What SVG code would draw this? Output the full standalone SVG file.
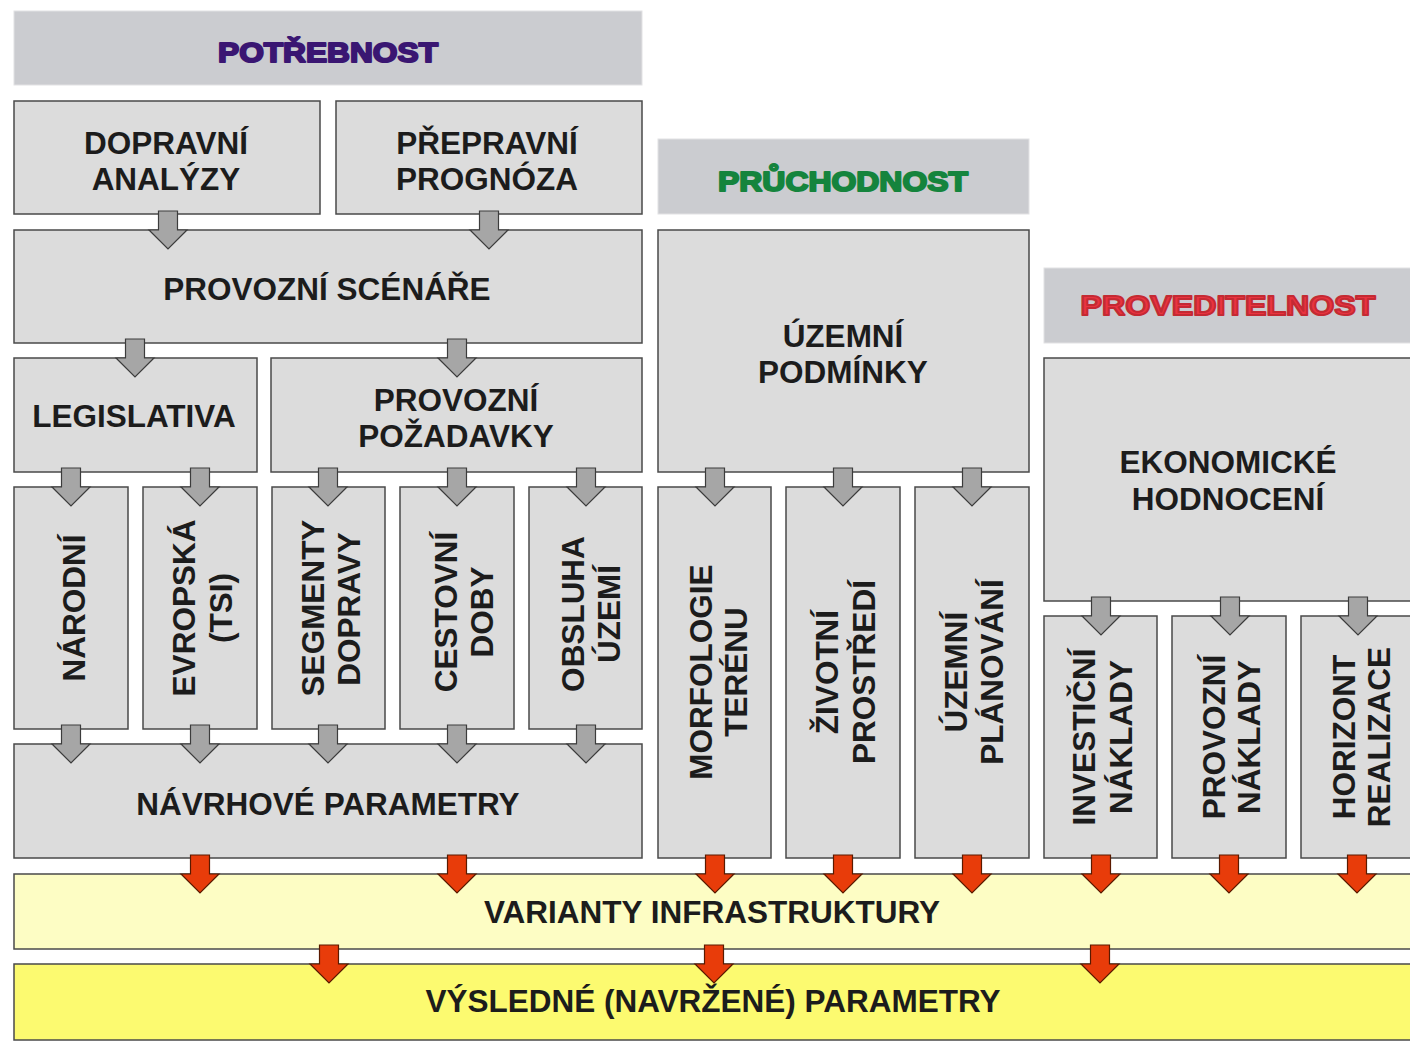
<svg xmlns="http://www.w3.org/2000/svg" width="1410" height="1041" viewBox="0 0 1410 1041">
  <defs>
    <style>
      .box { fill: #dcdcdc; stroke: #4a4a4a; stroke-width: 1.5; }
      .head { fill: #cbccd0; stroke: #e2e2e4; stroke-width: 1; }
      .var { fill: #fdfdc4; stroke: #4a4a4a; stroke-width: 1.5; }
      .res { fill: #fcfa70; stroke: #4a4a4a; stroke-width: 1.5; }
      .t { font-family: "Liberation Sans", Arial, sans-serif; font-weight: bold; font-size: 31.5px; fill: #1c1c1c; text-anchor: middle; }
      .h { font-family: "Liberation Sans", Arial, sans-serif; font-weight: 900; font-size: 28px; text-anchor: middle; stroke-width: 2; stroke-linejoin: round; }
      .gray { fill: #a6a6a6; stroke: #3c3c3c; stroke-width: 1.2; stroke-linejoin: miter; }
      .red { fill: #e83c0a; stroke: #5a1a00; stroke-width: 1.2; stroke-linejoin: miter; }
    </style>
    <!-- block arrow pointing down, origin at the tip -->
    <path id="arr" d="M -9.5 -38 L 9.5 -38 L 9.5 -19 L 19 -19 L 0 0 L -19 -19 L -9.5 -19 Z"/>
  </defs>

  <rect width="1410" height="1041" fill="#ffffff"/>

  <!-- column headers -->
  <g id="potrebnost">
    <rect class="head" x="14" y="11" width="628" height="74"/>
    <text class="h" x="328" y="62" fill="#3a1672" stroke="#3a1672" textLength="220" lengthAdjust="spacingAndGlyphs">POTŘEBNOST</text>
  </g>
  <g id="pruchodnost">
    <rect class="head" x="658" y="139" width="371" height="75"/>
    <text class="h" x="843" y="191" fill="#15843d" stroke="#15843d" textLength="250" lengthAdjust="spacingAndGlyphs">PRŮCHODNOST</text>
  </g>
  <g id="proveditelnost">
    <rect class="head" x="1044" y="268" width="380" height="75"/>
    <text class="h" x="1228" y="315" fill="#ea3340" stroke="#c42a33" textLength="295" lengthAdjust="spacingAndGlyphs">PROVEDITELNOST</text>
  </g>

  <!-- demand column -->
  <g id="dopravni-analyzy">
    <rect class="box" x="14" y="101" width="306" height="113"/>
    <text class="t" x="166" y="154">DOPRAVNÍ</text>
    <text class="t" x="166" y="190">ANALÝZY</text>
  </g>
  <g id="prepravni-prognoza">
    <rect class="box" x="336" y="101" width="306" height="113"/>
    <text class="t" x="487" y="154">PŘEPRAVNÍ</text>
    <text class="t" x="487" y="190">PROGNÓZA</text>
  </g>
  <g id="provozni-scenare">
    <rect class="box" x="14" y="230" width="628" height="113"/>
    <text class="t" x="327" y="300">PROVOZNÍ SCÉNÁŘE</text>
  </g>
  <g id="legislativa">
    <rect class="box" x="14" y="358" width="243" height="114"/>
    <text class="t" x="134" y="427">LEGISLATIVA</text>
  </g>
  <g id="provozni-pozadavky">
    <rect class="box" x="271" y="358" width="371" height="114"/>
    <text class="t" x="456" y="411">PROVOZNÍ</text>
    <text class="t" x="456" y="447">POŽADAVKY</text>
  </g>
  <g id="narodni">
    <rect class="box" x="14" y="487" width="114" height="242"/>
    <text class="t" transform="translate(85,608) rotate(-90)">NÁRODNÍ</text>
  </g>
  <g id="evropska">
    <rect class="box" x="143" y="487" width="114" height="242"/>
    <text class="t" transform="translate(195,608) rotate(-90)">EVROPSKÁ</text>
    <text class="t" transform="translate(232,608) rotate(-90)">(TSI)</text>
  </g>
  <g id="segmenty-dopravy">
    <rect class="box" x="272" y="487" width="113" height="242"/>
    <text class="t" transform="translate(324,608) rotate(-90)">SEGMENTY</text>
    <text class="t" transform="translate(360,609) rotate(-90)">DOPRAVY</text>
  </g>
  <g id="cestovni-doby">
    <rect class="box" x="400" y="487" width="114" height="242"/>
    <text class="t" transform="translate(457,612) rotate(-90)">CESTOVNÍ</text>
    <text class="t" transform="translate(493,612) rotate(-90)">DOBY</text>
  </g>
  <g id="obsluha-uzemi">
    <rect class="box" x="529" y="487" width="113" height="242"/>
    <text class="t" transform="translate(584,614) rotate(-90)">OBSLUHA</text>
    <text class="t" transform="translate(620,614) rotate(-90)">ÚZEMÍ</text>
  </g>
  <g id="navrhove-parametry">
    <rect class="box" x="14" y="744" width="628" height="114"/>
    <text class="t" x="328" y="815">NÁVRHOVÉ PARAMETRY</text>
  </g>

  <!-- passability column -->
  <g id="uzemni-podminky">
    <rect class="box" x="658" y="230" width="371" height="242"/>
    <text class="t" x="843" y="347">ÚZEMNÍ</text>
    <text class="t" x="843" y="383">PODMÍNKY</text>
  </g>
  <g id="morfologie-terenu">
    <rect class="box" x="658" y="487" width="113" height="371"/>
    <text class="t" transform="translate(712,672) rotate(-90)">MORFOLOGIE</text>
    <text class="t" transform="translate(747,672) rotate(-90)">TERÉNU</text>
  </g>
  <g id="zivotni-prostredi">
    <rect class="box" x="786" y="487" width="114" height="371"/>
    <text class="t" transform="translate(838,672) rotate(-90)">ŽIVOTNÍ</text>
    <text class="t" transform="translate(875,672) rotate(-90)">PROSTŘEDÍ</text>
  </g>
  <g id="uzemni-planovani">
    <rect class="box" x="915" y="487" width="114" height="371"/>
    <text class="t" transform="translate(967,672) rotate(-90)">ÚZEMNÍ</text>
    <text class="t" transform="translate(1003,672) rotate(-90)">PLÁNOVÁNÍ</text>
  </g>

  <!-- feasibility column -->
  <g id="ekonomicke-hodnoceni">
    <rect class="box" x="1044" y="358" width="380" height="243"/>
    <text class="t" x="1228" y="473">EKONOMICKÉ</text>
    <text class="t" x="1228" y="510">HODNOCENÍ</text>
  </g>
  <g id="investicni-naklady">
    <rect class="box" x="1044" y="616" width="113" height="242"/>
    <text class="t" transform="translate(1095,737) rotate(-90)">INVESTIČNÍ</text>
    <text class="t" transform="translate(1132,737) rotate(-90)">NÁKLADY</text>
  </g>
  <g id="provozni-naklady">
    <rect class="box" x="1172" y="616" width="114" height="242"/>
    <text class="t" transform="translate(1225,737) rotate(-90)">PROVOZNÍ</text>
    <text class="t" transform="translate(1260,737) rotate(-90)">NÁKLADY</text>
  </g>
  <g id="horizont-realizace">
    <rect class="box" x="1301" y="616" width="114" height="242"/>
    <text class="t" transform="translate(1355,737) rotate(-90)">HORIZONT</text>
    <text class="t" transform="translate(1390,737) rotate(-90)">REALIZACE</text>
  </g>

  <!-- outputs -->
  <g id="varianty-infrastruktury">
    <rect class="var" x="14" y="874" width="1410" height="75"/>
    <text class="t" x="712" y="923">VARIANTY INFRASTRUKTURY</text>
  </g>
  <g id="vysledne-parametry">
    <rect class="res" x="14" y="964" width="1410" height="76"/>
    <text class="t" x="713" y="1012">VÝSLEDNÉ (NAVRŽENÉ) PARAMETRY</text>
  </g>

  <!-- connectors -->
  <g id="connectors">
    <g class="gray">
      <use href="#arr" x="168" y="249"/>
      <use href="#arr" x="489" y="249"/>
      <use href="#arr" x="135" y="377"/>
      <use href="#arr" x="457" y="377"/>
      <use href="#arr" x="71" y="506"/>
      <use href="#arr" x="200" y="506"/>
      <use href="#arr" x="328" y="506"/>
      <use href="#arr" x="457" y="506"/>
      <use href="#arr" x="586" y="506"/>
      <use href="#arr" x="715" y="506"/>
      <use href="#arr" x="843" y="506"/>
      <use href="#arr" x="972" y="506"/>
      <use href="#arr" x="1101" y="635"/>
      <use href="#arr" x="1230" y="635"/>
      <use href="#arr" x="1358" y="635"/>
      <use href="#arr" x="71" y="763"/>
      <use href="#arr" x="200" y="763"/>
      <use href="#arr" x="328" y="763"/>
      <use href="#arr" x="457" y="763"/>
      <use href="#arr" x="586" y="763"/>
    </g>
    <g class="red">
      <use href="#arr" x="200" y="893"/>
      <use href="#arr" x="457" y="893"/>
      <use href="#arr" x="715" y="893"/>
      <use href="#arr" x="843" y="893"/>
      <use href="#arr" x="972" y="893"/>
      <use href="#arr" x="1101" y="893"/>
      <use href="#arr" x="1229" y="893"/>
      <use href="#arr" x="1357" y="893"/>
      <use href="#arr" x="329" y="983"/>
      <use href="#arr" x="714" y="983"/>
      <use href="#arr" x="1100" y="983"/>
    </g>
  </g>
</svg>
